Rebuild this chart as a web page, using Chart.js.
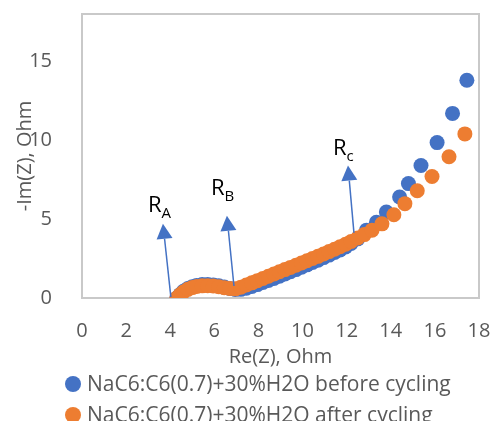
<!DOCTYPE html>
<html>
<head>
<meta charset="utf-8">
<script src="https://cdn.jsdelivr.net/npm/chart.js@4"></script>
<style>
  html, body { margin: 0; padding: 0; background: #ffffff; }
  #wrap { width: 494px; height: 421px; }
</style>
</head>
<body>
<div id="wrap"><canvas id="c" width="494" height="421"></canvas></div>
<script>
// ---- data ----
const seriesNames = ["NaC6:C6(0.7)+30%H2O before cycling", "NaC6:C6(0.7)+30%H2O after cycling"];
const beforeRe = [4.3,4.45,4.6,4.8,5.0,5.2,5.45,5.7,5.95,6.2,6.45,6.7,6.95,7.2,7.45,7.7,7.95,8.2,8.45,8.7,8.95,9.2,9.45,9.7,9.95,10.2,10.45,10.7,10.95,11.2,11.45,11.7,11.95,12.2,12.5,12.9,13.35,13.8,14.4,14.8,15.37,16.1,16.8,17.45];
const beforeIm = [0.0,0.22,0.42,0.6,0.72,0.8,0.85,0.86,0.83,0.77,0.69,0.6,0.54,0.55,0.62,0.73,0.85,0.98,1.11,1.24,1.38,1.52,1.66,1.8,1.95,2.1,2.25,2.4,2.56,2.72,2.88,3.05,3.23,3.45,3.75,4.3,4.8,5.45,6.4,7.25,8.4,9.85,11.7,13.8];
const afterRe = [4.3,4.45,4.6,4.8,5.0,5.2,5.45,5.7,5.95,6.2,6.45,6.7,6.95,7.2,7.45,7.7,7.95,8.2,8.45,8.7,8.95,9.2,9.45,9.7,9.95,10.2,10.45,10.7,10.95,11.2,11.45,11.7,11.95,12.2,12.5,12.8,13.15,13.6,14.14,14.64,15.2,15.87,16.64,17.36];
const afterIm = [0.0,0.2,0.38,0.55,0.66,0.73,0.77,0.78,0.76,0.71,0.65,0.6,0.58,0.68,0.82,0.96,1.1,1.24,1.38,1.52,1.66,1.8,1.94,2.08,2.22,2.36,2.5,2.64,2.79,2.94,3.09,3.25,3.41,3.58,3.8,4.02,4.3,4.7,5.28,5.98,6.8,7.7,8.95,10.4];
const xTicks = [0,2,4,6,8,10,12,14,16,18];
const yTicks = [0,5,10,15];
const xTitle = "Re(Z), Ohm";
const yTitle = "-Im(Z), Ohm";
// annotation arrows (data units): label subscript, tail, head, label anchor
const arrowSubs = ["A", "B", "c"];
const arrowTail = [[4.03,0.06],[6.89,0.76],[12.33,4.13]];
const arrowHead = [[3.67,4.7],[6.57,5.21],[12.06,8.39]];
const labelPos  = [[2.99,5.47],[5.85,6.55],[11.38,9.09]];

const BLUE = "#4472C4", ORANGE = "#ED7D31", TXT = "#595959";
const FONT = "'Open Sans', sans-serif";

const toPts = (xs, ys) => xs.map((x, i) => ({x: x, y: ys[i]}));

const decor = {
  id: 'decor',
  beforeDatasetsDraw(chart) {
    const {ctx, chartArea: a} = chart;
    ctx.save();
    ctx.strokeStyle = "#c9c9c9";
    ctx.lineWidth = 2;
    ctx.strokeRect(a.left, a.top, a.right - a.left, a.bottom - a.top);
    ctx.restore();
  },
  afterDatasetsDraw(chart) {
    const {ctx, scales: {x, y}} = chart;
    ctx.save();
    for (let i = 0; i < arrowSubs.length; i++) {
      const x0 = x.getPixelForValue(arrowTail[i][0]), y0 = y.getPixelForValue(arrowTail[i][1]);
      const x1 = x.getPixelForValue(arrowHead[i][0]), y1 = y.getPixelForValue(arrowHead[i][1]);
      const ang = Math.atan2(y1 - y0, x1 - x0);
      const hl = 15, hw = 8;
      const bx = x1 - hl * Math.cos(ang), by = y1 - hl * Math.sin(ang);
      ctx.strokeStyle = BLUE; ctx.fillStyle = BLUE; ctx.lineWidth = 1.5;
      ctx.beginPath(); ctx.moveTo(x0, y0); ctx.lineTo(bx, by); ctx.stroke();
      ctx.beginPath();
      ctx.moveTo(x1, y1);
      ctx.lineTo(bx + hw * Math.sin(ang), by - hw * Math.cos(ang));
      ctx.lineTo(bx - hw * Math.sin(ang), by + hw * Math.cos(ang));
      ctx.closePath(); ctx.fill();
      // label
      const lx = x.getPixelForValue(labelPos[i][0]), ly = y.getPixelForValue(labelPos[i][1]);
      ctx.fillStyle = "#000000";
      ctx.textAlign = "left"; ctx.textBaseline = "alphabetic";
      ctx.font = "22px " + FONT;
      ctx.fillText("R", lx, ly);
      const w = ctx.measureText("R").width;
      ctx.font = "15px " + FONT;
      ctx.fillText(arrowSubs[i], lx + w, ly + 6);
    }
    ctx.restore();
  },
  afterDraw(chart) {
    const {ctx} = chart;
    const ds = chart.data.datasets;
    ctx.save();
    ctx.font = "21px " + FONT;
    ctx.textBaseline = "middle"; ctx.textAlign = "left";
    const rows = [384, 415];
    [0, 1].forEach((k) => {
      const d = ds.find(s => s.legendIndex === k);
      ctx.fillStyle = d.backgroundColor;
      ctx.beginPath(); ctx.arc(73, rows[k], 8, 0, Math.PI * 2); ctx.fill();
      ctx.fillStyle = TXT;
      ctx.fillText(d.label, 87, rows[k] + 1);
    });
    ctx.restore();
  }
};

function zeroPad(s) { s.paddingTop = 0; s.paddingBottom = 0; s.paddingLeft = 0; s.paddingRight = 0; }

new Chart(document.getElementById('c'), {
  type: 'scatter',
  data: {
    datasets: [
      { label: seriesNames[0], legendIndex: 0, data: toPts(beforeRe, beforeIm), backgroundColor: BLUE, borderColor: BLUE, pointRadius: 7.5, pointBorderWidth: 0, order: 2 },
      { label: seriesNames[1], legendIndex: 1, data: toPts(afterRe, afterIm), backgroundColor: ORANGE, borderColor: ORANGE, pointRadius: 7.5, pointBorderWidth: 0, order: 1 }
    ]
  },
  options: {
    responsive: false,
    animation: false,
    devicePixelRatio: 1,
    layout: { padding: { top: 14, right: 15, left: 0, bottom: 0 } },
    plugins: { legend: { display: false }, tooltip: { enabled: false } },
    scales: {
      x: {
        type: 'linear', min: 0, max: 18,
        afterFit(s) { s.height = 123; zeroPad(s); },
        afterBuildTicks(s) { s.ticks = xTicks.map(v => ({value: v})); },
        grid: { display: false, drawTicks: false }, border: { display: false },
        ticks: { color: TXT, font: { family: FONT, size: 20 }, padding: 21, maxRotation: 0 },
        title: { display: true, text: xTitle, color: TXT, font: { family: FONT, size: 20 }, padding: { top: 0, bottom: 52 } }
      },
      y: {
        type: 'linear', min: 0, max: 18,
        afterFit(s) { s.width = 82; zeroPad(s); },
        afterBuildTicks(s) { s.ticks = yTicks.map(v => ({value: v})); },
        grid: { display: false, drawTicks: false }, border: { display: false },
        ticks: { color: TXT, font: { family: FONT, size: 20 }, padding: 30 },
        title: { display: true, text: yTitle, color: TXT, font: { family: FONT, size: 20 }, padding: { top: 13, bottom: 0 } }
      }
    }
  },
  plugins: [decor]
});
</script>
</body>
</html>
